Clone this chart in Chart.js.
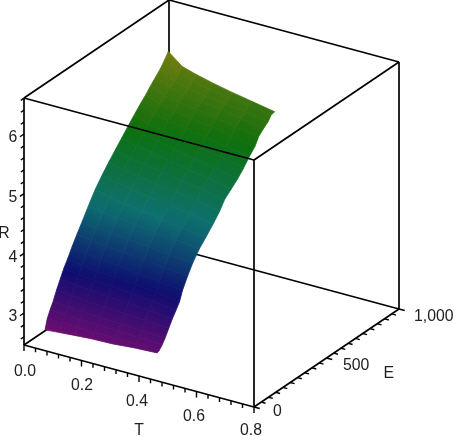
<!DOCTYPE html>
<html>
<head>
<meta charset="utf-8">
<title>R(T, E)</title>
<style>
  html, body { margin: 0; padding: 0; background: #fff; }
  canvas { display: block; }
</style>
<script src="https://cdn.jsdelivr.net/npm/chart.js@4"></script>
</head>
<body>
<canvas id="chart" width="454" height="436"></canvas>
<script>
// Surface samples
const tValues = [0, 0.05, 0.1, 0.16, 0.23, 0.3, 0.38];
const eValues = [145, 160, 180, 200, 225, 250, 275, 300, 330, 365, 400, 445, 490, 540, 585, 630, 675, 720, 760, 800, 840, 875, 910, 940, 970, 995];
// the far T edge of the surface drifts a little from row to row
const tEnds = [0.39, 0.39, 0.39, 0.39, 0.39, 0.39, 0.39, 0.39, 0.385, 0.385, 0.385, 0.385, 0.385, 0.385, 0.385, 0.38, 0.38, 0.38, 0.38, 0.38, 0.38, 0.375, 0.375, 0.375, 0.37, 0.37];
const rRows = [
    [2.48, 2.50, 2.52, 2.54, 2.55, 2.58, 2.60],
    [2.64, 2.64, 2.63, 2.63, 2.63, 2.62, 2.62],
    [2.76, 2.74, 2.73, 2.72, 2.71, 2.70, 2.68],
    [2.86, 2.84, 2.83, 2.81, 2.80, 2.78, 2.76],
    [3.02, 2.99, 2.97, 2.95, 2.93, 2.91, 2.88],
    [3.16, 3.13, 3.11, 3.08, 3.06, 3.03, 3.00],
    [3.30, 3.26, 3.23, 3.21, 3.18, 3.14, 3.10],
    [3.41, 3.37, 3.34, 3.32, 3.29, 3.25, 3.21],
    [3.56, 3.52, 3.49, 3.46, 3.42, 3.38, 3.34],
    [3.72, 3.68, 3.65, 3.63, 3.60, 3.56, 3.52],
    [3.87, 3.83, 3.81, 3.78, 3.75, 3.72, 3.68],
    [4.07, 4.02, 3.99, 3.96, 3.93, 3.89, 3.84],
    [4.26, 4.20, 4.16, 4.12, 4.07, 4.02, 3.96],
    [4.43, 4.36, 4.32, 4.27, 4.23, 4.17, 4.10],
    [4.57, 4.50, 4.46, 4.41, 4.37, 4.31, 4.24],
    [4.70, 4.63, 4.59, 4.54, 4.49, 4.43, 4.36],
    [4.83, 4.76, 4.71, 4.66, 4.60, 4.53, 4.46],
    [4.96, 4.88, 4.83, 4.77, 4.71, 4.64, 4.56],
    [5.07, 4.99, 4.94, 4.88, 4.82, 4.75, 4.67],
    [5.18, 5.09, 5.04, 4.99, 4.93, 4.87, 4.80],
    [5.28, 5.18, 5.13, 5.09, 5.04, 4.98, 4.91],
    [5.38, 5.27, 5.22, 5.18, 5.13, 5.07, 5.01],
    [5.47, 5.34, 5.29, 5.25, 5.21, 5.15, 5.09],
    [5.55, 5.40, 5.35, 5.30, 5.26, 5.21, 5.15],
    [5.65, 5.48, 5.42, 5.36, 5.31, 5.26, 5.20],
    [5.75, 5.56, 5.49, 5.42, 5.35, 5.29, 5.22]
];

// Axis ranges and ticks
const tRange = [0, 0.8];
const eRange = [0, 1000];
const rRange = [2.464, 6.603];
const tMinorTicks = [0.04, 0.08, 0.12, 0.16, 0.24, 0.28, 0.32, 0.36, 0.44, 0.48, 0.52, 0.56, 0.64, 0.68, 0.72, 0.76];
const tMajorTicks = [0, 0.2, 0.4, 0.6, 0.8];
const tTickLabels = ['0.0', '0.2', '0.4', '0.6', '0.8'];
const eMinorTicks = [50, 100, 150, 200, 250, 300, 350, 400, 450, 550, 600, 650, 700, 750, 800, 850, 900, 950];
const eMajorTicks = [0, 500, 1000];
const eTickLabels = ['0', '500', '1,000'];
const rMinorTicks = [2.6, 2.8, 3.2, 3.4, 3.6, 3.8, 4.2, 4.4, 4.6, 4.8, 5.2, 5.4, 5.6, 5.8, 6.2, 6.4, 6.6];
const rMajorTicks = [3, 4, 5, 6];
const rTickLabels = ['3', '4', '5', '6'];

const canvas = document.getElementById('chart');
const context = canvas.getContext('2d');

// View of the box: flat projection, no perspective
function project(t, e, r) {
    return {
        x: 24 + 287.5 * t + 0.145 * e,
        y: 345 + 77.5 * t - 0.098 * e - 59.67 * (r - rRange[0])
    };
}

// Hue runs magenta -> blue -> cyan -> green -> yellow with R
function surfaceColor(r) {
    const k = Math.min(1, Math.max(0, (r - 2.46) / 3.28));
    const h = 300 - 240 * k;
    const v = 0.44 + 0.05 * Math.max(0, k - 0.8) * 5;
    const s = 0.88;
    const f = (n) => {
        const a = (n + h / 60) % 6;
        return Math.round(255 * (v - v * s * Math.max(0, Math.min(a, 4 - a, 1))));
    };
    return `rgb(${f(5)}, ${f(3)}, ${f(1)})`;
}

function lineDataset(points, width, order) {
    return {
        data: points,
        showLine: true,
        fill: false,
        borderColor: '#000',
        borderWidth: width,
        pointRadius: 0,
        tension: 0,
        order: order
    };
}

function edge(from, to, order) {
    return lineDataset([project(...from), project(...to)], 1.7, order);
}

function surfacePoint(i, j) {
    const t = tValues[j] / 0.38 * tEnds[i];
    return project(t, eValues[i], rRows[i][j]);
}

function buildSurface() {
    const facets = [];
    for (let i = 0; i < eValues.length - 1; i++) {
        for (let j = 0; j < tValues.length - 1; j++) {
            const a = surfacePoint(i, j);
            const b = surfacePoint(i, j + 1);
            const c = surfacePoint(i + 1, j + 1);
            const d = surfacePoint(i + 1, j);
            // shade from the lower row to the upper one (scales map 1:1 to canvas pixels)
            const shade = context.createLinearGradient((a.x + b.x) / 2, (a.y + b.y) / 2, (c.x + d.x) / 2, (c.y + d.y) / 2);
            shade.addColorStop(0, surfaceColor((rRows[i][j] + rRows[i][j + 1]) / 2));
            shade.addColorStop(1, surfaceColor((rRows[i + 1][j] + rRows[i + 1][j + 1]) / 2));
            facets.push({
                data: [a, b, c, d, a],
                showLine: true,
                fill: 'shape',
                backgroundColor: shade,
                borderColor: shade,
                borderWidth: 0.8,
                pointRadius: 0,
                tension: 0,
                order: 1
            });
        }
    }
    return facets;
}

function buildBox() {
    const [t0, t1] = tRange;
    const [e0, e1] = eRange;
    const [r0, r1] = rRange;
    return [
        // behind the surface
        edge([t0, e1, r0], [t0, e1, r1], 2),
        edge([t0, e0, r0], [t0, e1, r0], 2),
        edge([t0, e1, r0], [t1, e1, r0], 2),
        // in front of it
        edge([t0, e0, r0], [t0, e0, r1], 0),
        edge([t1, e0, r0], [t1, e0, r1], 0),
        edge([t1, e1, r0], [t1, e1, r1], 0),
        edge([t0, e0, r0], [t1, e0, r0], 0),
        edge([t1, e0, r0], [t1, e1, r0], 0),
        edge([t0, e0, r1], [t1, e0, r1], 0),
        edge([t1, e0, r1], [t1, e1, r1], 0),
        edge([t0, e0, r1], [t0, e1, r1], 0),
        edge([t0, e1, r1], [t1, e1, r1], 0)
    ];
}

function buildTicks() {
    const ticks = [];
    const add = (a, b) => ticks.push(lineDataset([project(...a), project(...b)], 1.4, 0));
    const [r0] = rRange;
    tMinorTicks.forEach(t => add([t, 0, r0], [t, 0, r0 - 0.07]));
    tMajorTicks.forEach(t => add([t, 0, r0], [t, 0, r0 - 0.1]));
    eMinorTicks.forEach(e => add([0.8, e, r0], [0.815, e, r0]));
    eMajorTicks.forEach(e => add([0.8, e, r0], [0.82, e, r0]));
    rMinorTicks.forEach(r => add([0, 0, r], [0, -22, r]));
    rMajorTicks.forEach(r => add([0, 0, r], [0, -28, r]));
    return ticks;
}

// Oblique axes have no scale of their own, so labels are placed from the projected ticks
const axisLabels = {
    id: 'axisLabels',
    afterDraw(chart) {
        const { ctx, scales } = chart;
        const put = (text, p, dx, dy) => {
            ctx.fillText(text, scales.x.getPixelForValue(p.x) + dx, scales.y.getPixelForValue(p.y) + dy);
        };
        const [r0] = rRange;
        ctx.save();
        ctx.fillStyle = '#222';
        ctx.font = '15.8px "Liberation Sans", Arial, sans-serif';
        ctx.textBaseline = 'middle';
        ctx.textAlign = 'center';
        tMajorTicks.forEach((t, i) => {
            put(tTickLabels[i], project(t, 0, r0), [1, 0.5, -2, -2.5, -3][i], [27, 25.5, 26, 25.5, 24][i]);
        });
        rMajorTicks.forEach((r, i) => put(rTickLabels[i], project(0, 0, r), -11, 4));
        put('T', project(0.4, 0, r0), 0, 55);
        put('R', project(0, 0, 4.35), -20, 1);
        ctx.textAlign = 'left';
        eMajorTicks.forEach((e, i) => {
            const dx = [19, 16.5, 15][i];
            put(eTickLabels[i], project(0.8, e, r0), dx, [5, 8, 8][i]);
        });
        put('E', project(0.8, 500, r0), 57, 16);
        ctx.restore();
    }
};

new Chart(context, {
    type: 'scatter',
    data: { datasets: [...buildBox(), ...buildTicks(), ...buildSurface()] },
    options: {
        responsive: false,
        animation: false,
        events: [],
        layout: { padding: 0 },
        plugins: {
            legend: { display: false },
            title: { display: false },
            tooltip: { enabled: false }
        },
        scales: {
            x: { type: 'linear', min: 0, max: 454, display: false },
            y: { type: 'linear', min: 0, max: 436, reverse: true, display: false }
        }
    },
    plugins: [axisLabels]
});
</script>
</body>
</html>
